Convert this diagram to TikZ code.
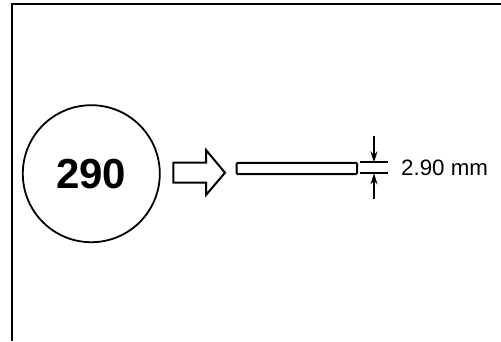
\documentclass[tikz,border=0pt]{standalone}
\usepackage{fontspec}
\setmainfont{Liberation Sans}
\usetikzlibrary{arrows.meta}
\begin{document}
\begin{tikzpicture}[x=1pt,y=-1pt,
  frameline/.style={line width=2.5pt},
  outlineshape/.style={line width=2pt, line join=miter},
  dimline/.style={line width=1.8pt},
  dimarrow/.style={line width=1.5pt, -{Stealth[length=11pt,width=7pt]}}]
\useasboundingbox (0,0) rectangle (501,341);
% frame (open right and bottom)
\draw[frameline] (12,341) -- (12,4.2) -- (502,4.2);
% circle with number
\node[draw, circle, line width=1.8pt, minimum size=137pt, inner sep=0pt,
      font=\fontsize{42}{42}\selectfont\bfseries] (coin) at (91.3,173.7) {290};
% hollow arrow
\draw[outlineshape] (173.3,162.7) -- (206,162.7) -- (206,150) -- (225,172.7)
   -- (206,195) -- (206,182.7) -- (173.3,182.7) -- cycle;
% bar
\node[draw, outlineshape, rounded corners=1pt, minimum width=120.3pt, minimum height=11.3pt,
      inner sep=0pt, anchor=west] (bar) at (235.7,168.4) {};
% dimension lines
\coordinate (d1a) at (360,162.3);
\coordinate (d1b) at (387.7,162.3);
\coordinate (d2a) at (360,173.3);
\coordinate (d2b) at (387.7,173.3);
\draw[dimline] (d1a) -- (d1b);
\draw[dimline] (d2a) -- (d2b);
\coordinate (t0) at (374,136);
\coordinate (t1) at (374,162.3);
\coordinate (b0) at (374,198.5);
\coordinate (b1) at (374,173.3);
\draw[dimarrow] (t0) -- (t1);
\draw[dimarrow] (b0) -- (b1);
\node[anchor=west, inner sep=0pt, font=\fontsize{22.3}{22.3}\selectfont] (lbl) at (401,168.3) {2.90 mm};
\end{tikzpicture}
\end{document}
